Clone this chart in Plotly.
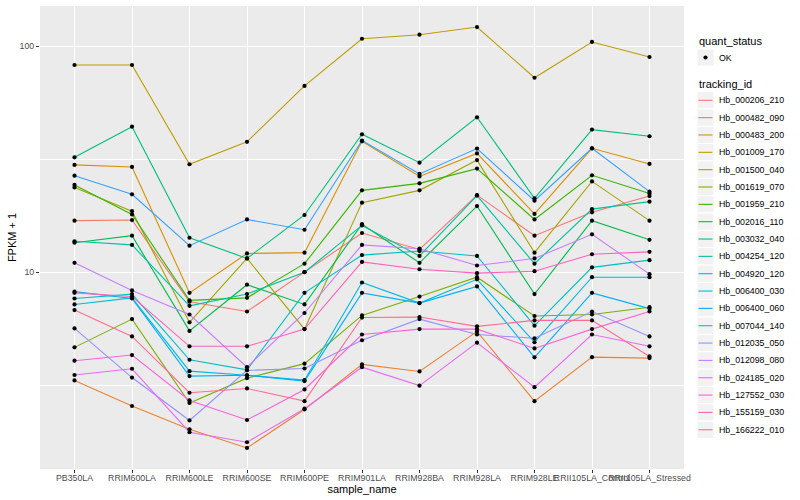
import math
import plotly.graph_objects as go

samples = ["PB350LA", "RRIM600LA", "RRIM600LE", "RRIM600SE", "RRIM600PE", "RRIM901LA",
           "RRIM928BA", "RRIM928LA", "RRIM928LE", "RRII105LA_Control", "RRII105LA_Stressed"]

tracking_ids = ["Hb_000206_210", "Hb_000482_090", "Hb_000483_200", "Hb_001009_170", "Hb_001500_040",
                "Hb_001619_070", "Hb_001959_210", "Hb_002016_110", "Hb_003032_040", "Hb_004254_120",
                "Hb_004920_120", "Hb_006400_030", "Hb_006400_060", "Hb_007044_140", "Hb_012035_050",
                "Hb_012098_080", "Hb_024185_020", "Hb_127552_030", "Hb_155159_030", "Hb_166222_010"]

colors = ["#F8766D", "#EA8331", "#D89000", "#C09B00", "#A3A500", "#7CAE00", "#39B600", "#00BB4E",
          "#00BF7D", "#00C1A3", "#00BFC4", "#00BAE0", "#00B0F6", "#35A2FF", "#9590FF", "#C77CFF",
          "#E76BF3", "#FA62DB", "#FF62BC", "#FF6C91"]

# FPKM + 1 per sample (same order as samples)
hb_000206_210 = [16.9, 17.0, 7.4, 6.7, 10.0, 14.9, 12.6, 21.9, 14.5, 18.4, 21.7]
hb_000482_090 = [3.32, 2.56, 2.02, 1.67, 2.47, 3.91, 3.64, 5.47, 2.69, 4.21, 4.17]
hb_000483_200 = [29.8, 29.2, 8.1, 12.1, 12.2, 37.9, 26.5, 33.5, 18.1, 35.3, 30.1]
hb_001009_170 = [82.4, 82.4, 30.0, 37.7, 66.6, 107.7, 112.2, 121.3, 72.4, 104.2, 89.4]
hb_001500_040 = [23.7, 18.6, 6.0, 11.5, 5.6, 20.3, 23.0, 31.3, 12.2, 25.2, 16.9]
hb_001619_070 = [4.65, 6.2, 2.64, 3.4, 3.94, 6.44, 7.8, 9.5, 6.4, 6.5, 7.0]
hb_001959_210 = [24.3, 18.0, 7.5, 7.7, 10.9, 23.0, 24.7, 28.7, 17.1, 26.8, 22.3]
hb_002016_110 = [13.5, 14.5, 5.5, 8.8, 7.2, 16.3, 11.0, 19.6, 8.0, 16.9, 13.9]
hb_003032_040 = [32.2, 44.0, 14.2, 11.5, 17.9, 40.7, 30.5, 48.4, 21.2, 42.7, 39.9]
hb_004254_120 = [13.7, 13.2, 7.1, 8.0, 10.0, 16.1, 11.8, 21.8, 10.9, 19.0, 20.5]
hb_004920_120 = [7.65, 8.0, 4.1, 3.7, 8.1, 11.9, 12.4, 11.8, 5.8, 10.5, 11.3]
hb_006400_030 = [7.2, 7.7, 3.65, 3.5, 3.33, 9.0, 7.3, 9.3, 4.9, 9.5, 9.5]
hb_006400_060 = [8.2, 7.65, 3.47, 3.5, 3.3, 8.1, 7.3, 8.65, 4.2, 8.1, 6.9]
hb_007044_140 = [26.7, 22.1, 13.1, 17.1, 15.4, 38.2, 27.2, 35.2, 20.7, 35.3, 22.7]
hb_012035_050 = [5.64, 3.42, 2.21, 3.68, 3.75, 5.0, 6.2, 5.3, 5.1, 6.7, 5.2]
hb_012098_080 = [11.0, 8.3, 6.5, 3.8, 6.6, 13.2, 12.7, 10.7, 11.5, 14.7, 9.8]
hb_024185_020 = [3.51, 3.74, 1.96, 1.77, 2.49, 3.8, 3.15, 4.88, 3.1, 5.3, 4.7]
hb_127552_030 = [4.06, 4.3, 2.71, 2.22, 3.03, 5.3, 5.6, 5.6, 4.6, 5.6, 6.7]
hb_155159_030 = [8.1, 7.8, 4.7, 4.7, 5.6, 11.1, 10.3, 9.9, 10.1, 12.0, 12.3]
hb_166222_010 = [6.8, 5.2, 2.93, 3.06, 2.69, 6.3, 6.33, 5.76, 6.12, 6.12, 4.24]

series = [hb_000206_210, hb_000482_090, hb_000483_200, hb_001009_170, hb_001500_040,
          hb_001619_070, hb_001959_210, hb_002016_110, hb_003032_040, hb_004254_120,
          hb_004920_120, hb_006400_030, hb_006400_060, hb_007044_140, hb_012035_050,
          hb_012098_080, hb_024185_020, hb_127552_030, hb_155159_030, hb_166222_010]

quant_status = "OK"
y_ticks = [10, 100]

W, H = 800, 500
L, R, T, B = 40, 116, 6, 31
PW, PH = W - L - R, H - T - B

fig = go.Figure()
for tid, col, vals in zip(tracking_ids, colors, series):
    fig.add_trace(go.Scatter(x=samples, y=vals, mode="lines", name=tid,
                             line=dict(color=col, width=1.1), showlegend=False,
                             hoverinfo="skip"))
for tid, vals in zip(tracking_ids, series):
    fig.add_trace(go.Scatter(x=samples, y=vals, mode="markers", name=tid,
                             marker=dict(color="black", size=4.2, symbol="circle"),
                             showlegend=False))

all_vals = [v for s in series for v in s]
lo, hi = math.log10(min(all_vals)), math.log10(max(all_vals))
pad = 0.05 * (hi - lo)

FONT = "Liberation Sans, Arial, Helvetica, sans-serif"
fig.update_layout(
    width=W, height=H, margin=dict(l=L, r=R, t=T, b=B),
    paper_bgcolor="white", plot_bgcolor="#EBEBEB",
    font=dict(family=FONT, color="black"),
    showlegend=False,
)
fig.update_xaxes(
    type="category", range=[-0.6, len(samples) - 0.4],
    showgrid=True, gridcolor="white", gridwidth=1.1, zeroline=False, showline=False,
    ticks="outside", ticklen=3, tickwidth=1.1, tickcolor="#333333", tickangle=0,
    ticklabelstandoff=-3,
    tickfont=dict(size=8.8, color="#4D4D4D", family=FONT),
    title=dict(text="sample_name", font=dict(size=11, color="black", family=FONT), standoff=0),
    automargin=False,
)
fig.update_yaxes(
    type="log", range=[lo - pad, hi + pad],
    tickmode="array", tickvals=y_ticks, ticktext=[str(t) for t in y_ticks],
    showgrid=True, gridcolor="white", gridwidth=1.1, zeroline=False, showline=False,
    minor=dict(tickmode="array", tickvals=[10 ** 0.5, 10 ** 1.5], showgrid=True,
               gridcolor="white", gridwidth=0.55, ticks=""),
    ticks="outside", ticklen=3, tickwidth=1.1, tickcolor="#333333",
    tickfont=dict(size=8.8, color="#4D4D4D", family=FONT),
    title=dict(text="FPKM + 1", font=dict(size=11, color="black", family=FONT), standoff=0),
    automargin=False,
)

# ggplot-style legend drawn in paper coordinates
def px(x):
    return (x - L) / PW

def py(y):
    return (H - B - y) / PH

shapes, annots = [], []
kx0, kx1 = 697, 714
annots.append(dict(x=px(kx0), y=py(40.7), xref="paper", yref="paper", text="quant_status",
                   showarrow=False, xanchor="left", yanchor="middle",
                   font=dict(size=11, color="black", family=FONT)))
shapes.append(dict(type="rect", xref="paper", yref="paper", x0=px(kx0), x1=px(kx1),
                   y0=py(49), y1=py(66), fillcolor="#F2F2F2", line=dict(color="white", width=1)))
cx, cy0, r = (kx0 + kx1) / 2, 57.5, 2.1
shapes.append(dict(type="circle", xref="paper", yref="paper", x0=px(cx - r), x1=px(cx + r),
                   y0=py(cy0 + r), y1=py(cy0 - r), fillcolor="black", line=dict(width=0)))
annots.append(dict(x=px(717), y=py(57.5), xref="paper", yref="paper", text=quant_status,
                   showarrow=False, xanchor="left", yanchor="middle",
                   font=dict(size=8.8, color="black", family=FONT)))
annots.append(dict(x=px(kx0), y=py(84.3), xref="paper", yref="paper", text="tracking_id",
                   showarrow=False, xanchor="left", yanchor="middle",
                   font=dict(size=11, color="black", family=FONT)))
step = 17.34
for i, (tid, col) in enumerate(zip(tracking_ids, colors)):
    cy = 100.3 + step * i
    shapes.append(dict(type="rect", xref="paper", yref="paper", x0=px(kx0), x1=px(kx1),
                       y0=py(cy - step / 2), y1=py(cy + step / 2), fillcolor="#F2F2F2",
                       line=dict(color="white", width=1)))
    shapes.append(dict(type="line", xref="paper", yref="paper", x0=px(kx0 + 1.5), x1=px(kx1 - 1.5),
                       y0=py(cy), y1=py(cy), line=dict(color=col, width=1.1)))
    annots.append(dict(x=px(717), y=py(cy), xref="paper", yref="paper", text=tid,
                       showarrow=False, xanchor="left", yanchor="middle",
                       font=dict(size=8.8, color="black", family=FONT)))

fig.update_layout(shapes=shapes, annotations=annots)

fig.write_html("out.html", config={"displayModeBar": False},
               post_script="document.body.style.margin='0';document.body.style.padding='0';")
